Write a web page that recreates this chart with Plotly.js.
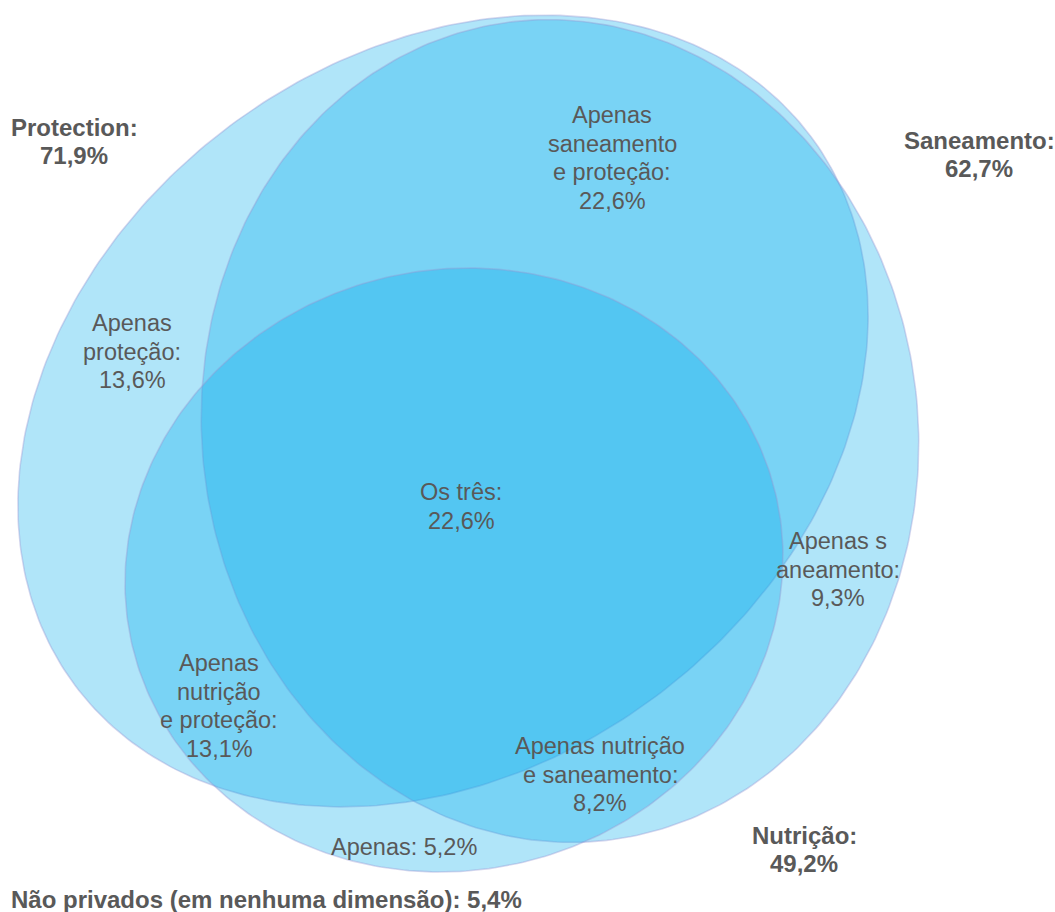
<!DOCTYPE html>
<html><head><meta charset="utf-8">
<script src="https://cdn.plot.ly/plotly-3.0.1.min.js"></script>
<style>html,body{margin:0;padding:0;background:#fff;}#chart{width:1055px;height:912px;}</style>
</head><body><div id="chart"></div>
<script>
// ---- data ----
const setNames = ['Protection', 'Saneamento', 'Nutrição'];
const setShares = ['71,9%', '62,7%', '49,2%'];
const regionNames = ['Apenas|saneamento|e proteção:', 'Apenas|proteção:', 'Os três:', 'Apenas s|aneamento:', 'Apenas|nutrição|e proteção:', 'Apenas nutrição|e saneamento:', 'Apenas:'];
const regionShares = ['22,6%', '13,6%', '22,6%', '9,3%', '13,1%', '8,2%', '5,2%'];
const noneLabel = 'Não privados (em nenhuma dimensão)';
const noneShare = '5,4%';

// ---- geometry / placement (screen pixels) ----
const ellipseGeom = [
  {cx: 443, cy: 411, a: 459, b: 356, rot: 36.7},
  {cx: 560, cy: 431, a: 358, b: 412, rot: 6.5},
  {cx: 454, cy: 570, a: 330.5, b: 300.3, rot: 13.3}
];
const setLabelPos = [[74, 127], [979, 140], [804, 835]];
const regionLabelPos = [[612, 115], [132, 323], [461, 492], [838, 541], [219, 663], [600, 746], [404, 847]];
const regionInline = [false, false, false, false, false, false, true];
const noneLabelPos = [9, 899];
const lineGap = 28.6;
const FONT = 'Liberation Sans, Arial, Helvetica, sans-serif';
const TXT = '#595959';
const FS = 23.5;
const FS_BOLD = 24;

const traces = ellipseGeom.map((e, i) => {
  const xs = [], ys = [];
  const th = e.rot * Math.PI / 180;
  for (let k = 0; k <= 360; k++) {
    const t = k * Math.PI / 180;
    const dx = e.a * Math.cos(t), dy = e.b * Math.sin(t);
    xs.push(e.cx + dx * Math.cos(th) - dy * Math.sin(th));
    ys.push(e.cy - (dx * Math.sin(th) + dy * Math.cos(th)));
  }
  return {
    type: 'scatter', mode: 'lines', x: xs, y: ys, fill: 'toself',
    fillcolor: 'rgba(0,170,235,0.31)',
    line: {color: 'rgba(150,150,210,0.38)', width: 1.6},
    hoverinfo: 'skip', showlegend: false, name: setNames[i]
  };
});

const annotations = [];
function addLines(lines, x, y0, bold, align) {
  lines.forEach((ln, j) => {
    annotations.push({
      x: x, y: y0 + j * lineGap, xref: 'x', yref: 'y',
      text: bold ? '<b>' + ln + '</b>' : ln,
      showarrow: false, xanchor: align || 'center', yanchor: 'middle',
      font: {family: FONT, size: bold ? FS_BOLD : FS, color: TXT}
    });
  });
}
setNames.forEach((n, i) => addLines([n + ':', setShares[i]], setLabelPos[i][0], setLabelPos[i][1], true));
regionNames.forEach((n, i) => {
  const lines = n.split('|');
  if (regionInline[i]) lines[lines.length - 1] += ' ' + regionShares[i];
  else lines.push(regionShares[i]);
  addLines(lines, regionLabelPos[i][0], regionLabelPos[i][1], false);
});
addLines([noneLabel + ': ' + noneShare], noneLabelPos[0], noneLabelPos[1], true, 'left');

const layout = {
  width: 1055, height: 912,
  margin: {l: 0, r: 0, t: 0, b: 0},
  paper_bgcolor: '#ffffff', plot_bgcolor: '#ffffff',
  xaxis: {range: [0, 1055], visible: false, fixedrange: true},
  yaxis: {range: [912, 0], visible: false, fixedrange: true},
  showlegend: false,
  annotations: annotations
};
Plotly.newPlot('chart', traces, layout, {staticPlot: true, displayModeBar: false});
</script>
</body></html>
